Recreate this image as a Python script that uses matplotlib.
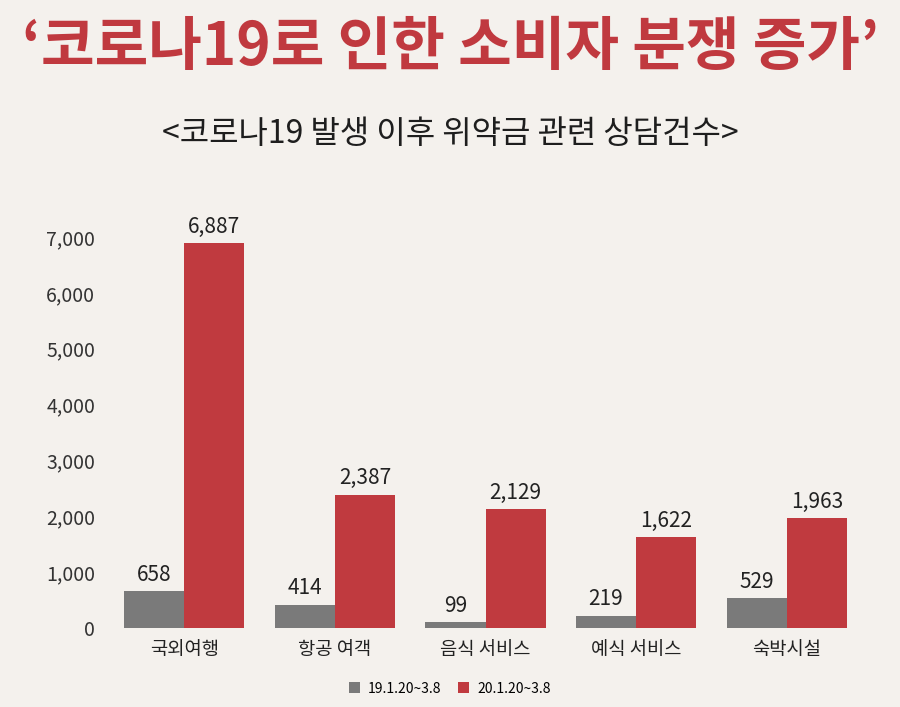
import matplotlib
matplotlib.use("Agg")
import matplotlib.pyplot as plt
import numpy as np

plt.rcParams['font.family'] = ['Noto Sans CJK KR', 'DejaVu Sans']

categories = ["국외여행", "항공 여객", "음식 서비스", "예식 서비스", "숙박시설"]
values_2019 = [658, 414, 99, 219, 529]
values_2020 = [6887, 2387, 2129, 1622, 1963]
series_names = ["19.1.20~3.8", "20.1.20~3.8"]

bg = "#f4f1ed"
gray = "#7a7a7a"
red = "#c03a3f"

fig = plt.figure(figsize=(9, 7.07), dpi=100, facecolor=bg)
ax = fig.add_axes([0.121, 0.1117, 0.837, 0.553])
ax.set_facecolor(bg)

x = np.arange(len(categories))
w = 0.4
b1 = ax.bar(x - w / 2, values_2019, w, color=gray, label=series_names[0])
b2 = ax.bar(x + w / 2, values_2020, w, color=red, label=series_names[1])

# 막대 위 값 표시
for bars in (b1, b2):
    for rect in bars:
        h = rect.get_height()
        ax.annotate(f"{h:,.0f}", (rect.get_x() + rect.get_width() / 2, h),
                    xytext=(0, 4), textcoords="offset points",
                    ha="center", va="bottom", fontsize=15, color="#222222")

ax.set_xlim(-0.5, len(categories) - 0.5)
ax.set_ylim(0, 7000)
ax.set_yticks(range(0, 7001, 1000))
ax.set_yticklabels([f"{v:,}" for v in range(0, 7001, 1000)], fontsize=14, color="#333333")
ax.set_xticks(x)
ax.set_xticklabels(categories, fontsize=13.5, color="#222222")
ax.tick_params(length=0, pad=10)
ax.tick_params(axis="x", pad=8)
for s in ax.spines.values():
    s.set_visible(False)

fig.text(0.5, 0.932, "‘코로나19로 인한 소비자 분쟁 증가’", ha="center", va="center",
         fontsize=42, fontweight="bold", color="#c0393f")
fig.text(0.5, 0.81, "<코로나19 발생 이후 위약금 관련 상담건수>", ha="center", va="center",
         fontsize=23, color="#1e1e1e")

fig.legend(handles=[b1, b2], labels=series_names, loc="center",
           bbox_to_anchor=(0.5, 0.026), ncol=2, frameon=False, fontsize=10,
           handlelength=0.8, handleheight=0.8, handletextpad=0.6, columnspacing=1.2)

fig.savefig("out.png", dpi=100, facecolor=bg)
